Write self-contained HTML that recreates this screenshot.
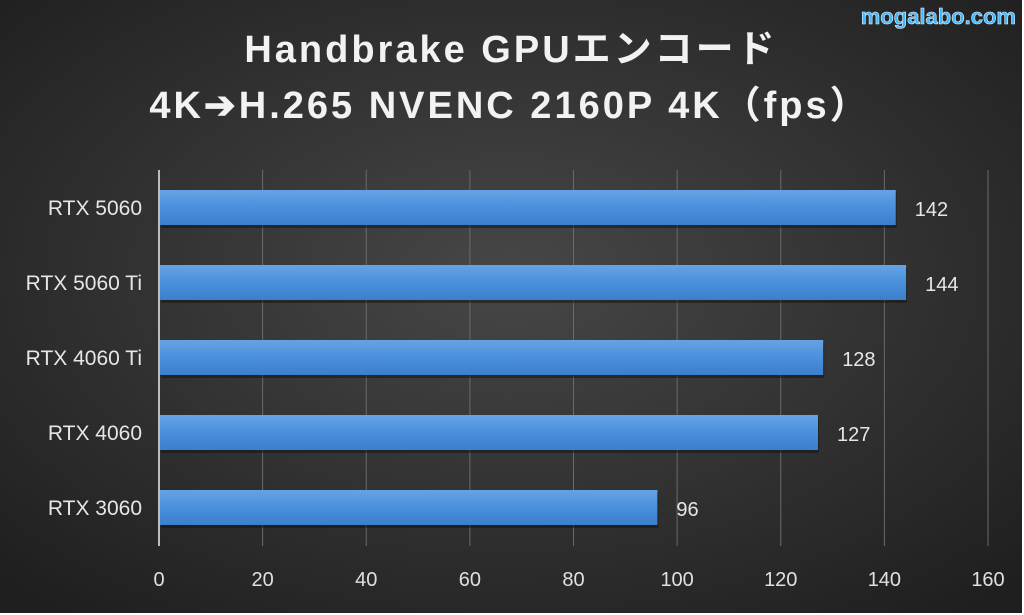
<!DOCTYPE html>
<html><head><meta charset="utf-8"><style>
html,body{margin:0;padding:0;background:#fff;}
svg{display:block;}
</style></head><body>
<svg id="chart" width="1024" height="615" viewBox="0 0 1024 615" xmlns="http://www.w3.org/2000/svg">
<defs>
<radialGradient id="bg" cx="50%" cy="45%" r="70%">
<stop offset="0" stop-color="#474747"/><stop offset="1" stop-color="#1f1f1f"/>
</radialGradient>
<linearGradient id="bar" x1="0" y1="0" x2="0" y2="1">
<stop offset="0" stop-color="#66a3e3"/><stop offset="0.5" stop-color="#4a90dd"/><stop offset="1" stop-color="#3c7fcc"/>
</linearGradient>
</defs>
<rect x="0" y="0" width="1022" height="613" fill="url(#bg)"/>
<text x="1016" y="24" text-anchor="end" font-family="Liberation Sans, sans-serif" font-weight="bold" font-size="22" fill="#3fb6ff" stroke="#dff4ff" stroke-width="0.6">mogalabo.com</text>
<text x="511" y="62" text-anchor="middle" font-family="'Liberation Sans','Noto Sans CJK JP',sans-serif" font-weight="bold" font-size="38" fill="#f2f2f2" letter-spacing="3">Handbrake GPUエンコード</text>
<text x="510" y="118" text-anchor="middle" font-family="'Liberation Sans','Noto Sans CJK JP',sans-serif" font-weight="bold" font-size="38" fill="#f2f2f2" letter-spacing="3">4K➔H.265 NVENC 2160P 4K（fps）</text>
<g id="grid"></g>
<g id="bars"></g>
<g id="labels"></g>
</svg>
<script>
const categories = ["RTX 5060","RTX 5060 Ti","RTX 4060 Ti","RTX 4060","RTX 3060"];
const values = [142,144,128,127,96];
const ticks = [0,20,40,60,80,100,120,140,160];
const NS="http://www.w3.org/2000/svg";
const x0=159,x1=988,xmax=160;
const xs=v=>x0+(v/xmax)*(x1-x0);
const yTop=170,band=75;
const yc=i=>yTop+band*i+38;
function mk(t,a,p){const e=document.createElementNS(NS,t);for(const k in a)e.setAttribute(k,a[k]);p.appendChild(e);return e;}
const grid=document.getElementById('grid'),bars=document.getElementById('bars'),labels=document.getElementById('labels');
ticks.forEach(t=>{
  const l=mk('line',{x1:xs(t),x2:xs(t),y1:170,y2:546,stroke:t===0?'#bdbdbd':'#6a6a6a','stroke-width':t===0?2:1},grid);
  
  
  const tx=mk('text',{x:xs(t),y:586,'text-anchor':'middle','font-family':'Liberation Sans, sans-serif','font-size':20,fill:'#e0e0e0'},labels);
  tx.textContent=t;
  
  
});
categories.forEach((c,i)=>{
  const y=yc(i);
  const sh=mk('rect',{x:xs(0)+2,y:y-15,width:xs(values[i])-xs(0),height:35,fill:'#111',opacity:0.5},bars);
  
  
  const r=mk('rect',{x:xs(0)+1,y:y-18,width:xs(values[i])-xs(0),height:35,fill:'url(#bar)'},bars);
  
  
  const cl=mk('text',{x:142,y:y+7,'text-anchor':'end','font-family':'Liberation Sans, sans-serif','font-size':21,fill:'#e6e6e6'},labels);
  cl.textContent=c;
  
  
  const vl=mk('text',{x:xs(values[i])+20,y:y+8,'font-family':'Liberation Sans, sans-serif','font-size':20,fill:'#e6e6e6'},labels);
  vl.textContent=values[i];
  
  
});
</script>
</body></html>
